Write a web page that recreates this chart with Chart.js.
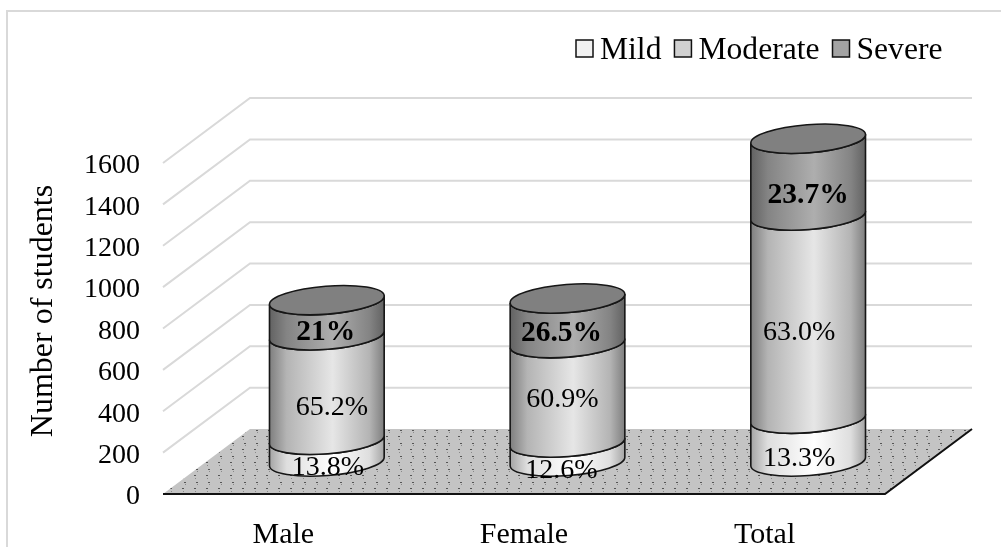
<!DOCTYPE html>
<html>
<head>
<meta charset="utf-8">
<script src="https://cdn.jsdelivr.net/npm/chart.js@4"></script>
<style>
  html, body { margin: 0; padding: 0; background: #fff; }
  #wrap { position: relative; width: 1001px; height: 547px; }
</style>
</head>
<body>
<div id="wrap"><canvas id="chart" width="1001" height="547"></canvas></div>
<script>
const categories = ['Male', 'Female', 'Total'];
const mild = [105, 92, 207];
const moderate = [505, 480, 982];
const severe = [170, 216, 371];
const yMax = 1600;
const yStep = 200;
const yTitle = 'Number of students';

// printed percentages, same order as the series
const mildPct = ['13.8%', '12.6%', '13.3%'];
const moderatePct = ['65.2%', '60.9%', '63.0%'];
const severePct = ['21%', '26.5%', '23.7%'];

// hand placed labels in the original, so nudge them off the segment middle
const labelNudge = [
  [[1, 17], [-6, 19], [-9, 19]],
  [[5, 20], [-5, 7], [-9, 16]],
  [[-1, 15], [-6, 13], [0, 18]]
];

const FONT = '"Liberation Serif", "Times New Roman", serif';
const depthX = 87;
const depthY = -65;

// edge, shoulder and centre greys of each cylinder band
const bandShades = [
  ['#a4a4a4', '#dedede', '#ffffff'],
  ['#7e7e7e', '#b4b4b4', '#e6e6e6'],
  ['#626262', '#848484', '#aeaeae']
];
const legendFill = ['#f2f2f2', '#d0d0d0', '#a3a3a3'];

function dotPattern(ctx) {
  const c = document.createElement('canvas');
  c.width = 12;
  c.height = 13;
  const p = c.getContext('2d');
  p.fillStyle = '#c4c4c4';
  p.fillRect(0, 0, 12, 13);
  p.fillStyle = '#555';
  p.fillRect(4, 1, 2, 1);
  p.fillRect(2, 7, 2, 1);
  p.fillStyle = '#8a8a8a';
  p.fillRect(5, 3, 1, 1);
  p.fillRect(3, 10, 1, 1);
  return ctx.createPattern(c, 'repeat');
}

const wallAndFloor = {
  id: 'wallAndFloor',
  beforeDraw(chart) {
    const { ctx, scales: { x, y } } = chart;
    ctx.save();
    // outer frame, only top and left show in the original
    ctx.strokeStyle = '#d9d9d9';
    ctx.lineWidth = 2;
    ctx.beginPath();
    ctx.moveTo(7, 547);
    ctx.lineTo(7, 11);
    ctx.lineTo(1001, 11);
    ctx.stroke();

    // side wall and back wall grid
    y.ticks.forEach(t => {
      if (t.value === 0) return;
      const py = y.getPixelForValue(t.value);
      ctx.beginPath();
      ctx.moveTo(x.left, py);
      ctx.lineTo(x.left + depthX, py + depthY);
      ctx.lineTo(x.right + depthX, py + depthY);
      ctx.stroke();
    });

    // floor
    const y0 = y.getPixelForValue(0);
    ctx.beginPath();
    ctx.moveTo(x.left, y0);
    ctx.lineTo(x.right, y0);
    ctx.lineTo(x.right + depthX, y0 + depthY);
    ctx.lineTo(x.left + depthX, y0 + depthY);
    ctx.closePath();
    ctx.fillStyle = dotPattern(ctx);
    ctx.fill();
    ctx.strokeStyle = '#111';
    ctx.beginPath();
    ctx.moveTo(x.left, y0);
    ctx.lineTo(x.right, y0);
    ctx.lineTo(x.right + depthX, y0 + depthY);
    ctx.stroke();

    // axis title sits above the plot centre in the original, so not the scale's own
    ctx.translate(52, 311);
    ctx.rotate(-Math.PI / 2);
    ctx.fillStyle = '#000';
    ctx.font = '32px ' + FONT;
    ctx.textAlign = 'center';
    ctx.textBaseline = 'alphabetic';
    ctx.fillText(yTitle, 0, 0);
    ctx.restore();
  }
};

const cylinders = {
  id: 'cylinders',
  afterDatasetsDraw(chart) {
    const { ctx } = chart;
    const tilt = -4.5 * Math.PI / 180;
    const ry = 14;
    ctx.save();
    ctx.strokeStyle = '#161616';
    ctx.lineWidth = 1.6;
    categories.forEach((cat, i) => {
      chart.data.datasets.forEach((ds, d) => {
        const bar = chart.getDatasetMeta(d).data[i];
        const cx = bar.x + depthX / 2;
        const rx = bar.width / 2;
        const top = bar.y + depthY / 2;
        const bottom = bar.base + depthY / 2;
        const g = ctx.createLinearGradient(cx - rx, 0, cx + rx, 0);
        g.addColorStop(0, bandShades[d][0]);
        g.addColorStop(0.15, bandShades[d][1]);
        g.addColorStop(0.55, bandShades[d][2]);
        g.addColorStop(0.87, bandShades[d][1]);
        g.addColorStop(1, bandShades[d][0]);
        ctx.beginPath();
        ctx.ellipse(cx, top, rx, ry, tilt, Math.PI, 0, true);
        ctx.ellipse(cx, bottom, rx, ry, tilt, 0, Math.PI, false);
        ctx.closePath();
        ctx.fillStyle = g;
        ctx.fill();
        ctx.stroke();
        if (d === chart.data.datasets.length - 1) {
          ctx.beginPath();
          ctx.ellipse(cx, top, rx, ry, tilt, 0, Math.PI * 2);
          ctx.fillStyle = '#808080';
          ctx.fill();
          ctx.stroke();
        }
      });
    });

    // percentage labels on top of everything
    const pct = [mildPct, moderatePct, severePct];
    ctx.fillStyle = '#000';
    ctx.textAlign = 'center';
    ctx.textBaseline = 'middle';
    chart.data.datasets.forEach((ds, d) => {
      ctx.font = d === 2 ? 'bold 29.5px ' + FONT : '28px ' + FONT;
      chart.getDatasetMeta(d).data.forEach((bar, i) => {
        const [nx, ny] = labelNudge[d][i];
        ctx.fillText(pct[d][i], bar.x + depthX / 2 + nx, (bar.y + bar.base + depthY) / 2 + ny);
      });
    });
    ctx.restore();
  }
};

// legend drawn by hand, the stock one leaves too wide a gap after the box
const boxLegend = {
  id: 'boxLegend',
  afterDraw(chart) {
    const { ctx } = chart;
    ctx.save();
    ctx.font = '31.6px ' + FONT;
    ctx.textBaseline = 'alphabetic';
    ctx.textAlign = 'left';
    let lx = 576;
    chart.data.datasets.forEach((ds, d) => {
      ctx.fillStyle = legendFill[d];
      ctx.fillRect(lx, 40, 17, 17);
      ctx.strokeStyle = '#111';
      ctx.lineWidth = 1.5;
      ctx.strokeRect(lx, 40, 17, 17);
      ctx.fillStyle = '#000';
      ctx.fillText(ds.label, lx + 24, 59);
      lx += 24 + ctx.measureText(ds.label).width + 13;
    });
    ctx.restore();
  }
};

new Chart('chart', {
  type: 'bar',
  data: {
    labels: categories,
    datasets: [
      { label: 'Mild', data: mild, backgroundColor: 'transparent' },
      { label: 'Moderate', data: moderate, backgroundColor: 'transparent' },
      { label: 'Severe', data: severe, backgroundColor: 'transparent' }
    ]
  },
  options: {
    responsive: false,
    animation: false,
    events: [],
    layout: { padding: { top: 163, right: 116, left: 0, bottom: 0 } },
    datasets: { bar: { categoryPercentage: 1, barPercentage: 0.478 } },
    plugins: {
      legend: { display: false },
      tooltip: { enabled: false }
    },
    scales: {
      x: {
        stacked: true,
        grid: { display: false },
        border: { display: false },
        ticks: { color: '#000', font: { family: FONT, size: 30 }, padding: 15, maxRotation: 0 },
        afterFit(s) { s.height = 53; }
      },
      y: {
        stacked: true,
        min: 0,
        max: yMax,
        grid: { display: false, drawTicks: false },
        border: { display: false },
        ticks: {
          stepSize: yStep,
          color: '#000',
          font: { family: FONT, size: 28 },
          padding: 23,
          labelOffset: 3,
          callback: v => String(v)
        },
        afterFit(s) { s.width = 163; }
      }
    }
  },
  plugins: [wallAndFloor, cylinders, boxLegend]
});
</script>
</body>
</html>
